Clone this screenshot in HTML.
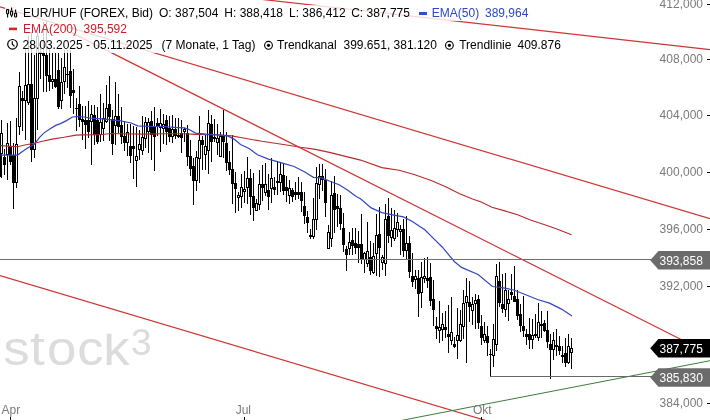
<!DOCTYPE html>
<html><head><meta charset="utf-8"><style>
html,body{margin:0;padding:0;background:#fff;}
body{width:710px;height:420px;overflow:hidden;position:relative;font-family:"Liberation Sans",Arial,sans-serif;}
svg text{font-family:"Liberation Sans",Arial,sans-serif;}
.bg{position:absolute;left:5px;height:16px;background:rgba(255,255,255,0.8);}
.t{position:absolute;font-size:12px;line-height:16px;white-space:nowrap;color:#000;}
.dash{position:absolute;width:8px;height:3px;}
.ic{position:absolute;}
</style></head><body>
<svg width="710" height="420" viewBox="0 0 710 420" style="position:absolute;left:0;top:0">
<defs><clipPath id="lc"><rect x="0" y="333.8" width="140" height="40"/></clipPath></defs><text clip-path="url(#lc)" transform="scale(1.08,1)" x="3.1 27.8 43.5 71.6 95.7" y="365" font-size="49" fill="#dcdcdf">stock</text>
<text x="131" y="354.8" font-size="37" fill="#dcdcdf">3</text>
<g shape-rendering="crispEdges"><path d="M1 120v58h1v-58zM4 149v26h1v-26zM7 123v57h1v-57zM10 121v44h1v-44zM13 143v66h1v-66zM16 118v70h1v-70zM19 72v63h1v-63zM22 91v40h1v-40zM25 49v91h1v-91zM28 36v69h1v-69zM31 32v130h1v-130zM34 55v103h1v-103zM37 32v98h1v-98zM40 44v35h1v-35zM43 22v70h1v-70zM46 21v71h1v-71zM49 49v42h1v-42zM52 53v36h1v-36zM55 53v35h1v-35zM58 53v56h1v-56zM61 58v51h1v-51zM64 50v44h1v-44zM67 50v38h1v-38zM70 50v58h1v-58zM73 69v45h1v-45zM76 98v33h1v-33zM79 86v41h1v-41zM82 106v34h1v-34zM85 106v43h1v-43zM88 101v37h1v-37zM91 105v60h1v-60zM94 105v40h1v-40zM97 107v37h1v-37zM100 94v48h1v-48zM103 103v38h1v-38zM106 85v38h1v-38zM109 76v65h1v-65zM112 110v45h1v-45zM115 82v63h1v-63zM118 94v39h1v-39zM121 107v37h1v-37zM124 121v30h1v-30zM127 124v32h1v-32zM130 124v39h1v-39zM133 126v53h1v-53zM136 127v60h1v-60zM139 130v30h1v-30zM142 116v39h1v-39zM145 117v31h1v-31zM148 118v35h1v-35zM151 111v49h1v-49zM154 107v64h1v-64zM157 118v18h1v-18zM160 109v43h1v-43zM163 114v30h1v-30zM166 115v30h1v-30zM169 116v26h1v-26zM172 115v28h1v-28zM175 118v21h1v-21zM178 118v20h1v-20zM181 120v33h1v-33zM184 128v14h1v-14zM187 125v41h1v-41zM190 140v36h1v-36zM193 158v47h1v-47zM196 151v40h1v-40zM199 116v67h1v-67zM202 136v34h1v-34zM205 135v35h1v-35zM208 110v64h1v-64zM211 115v47h1v-47zM214 119v23h1v-23zM217 124v31h1v-31zM220 132v25h1v-25zM223 110v48h1v-48zM226 132v39h1v-39zM229 151v24h1v-24zM232 135v69h1v-69zM235 172v41h1v-41zM238 192v19h1v-19zM241 174v34h1v-34zM244 171v32h1v-32zM247 157v47h1v-47zM250 169v46h1v-46zM253 173v48h1v-48zM256 199v12h1v-12zM259 170v40h1v-40zM262 165v36h1v-36zM265 163v33h1v-33zM268 174v36h1v-36zM271 158v45h1v-45zM274 177v18h1v-18zM277 161v34h1v-34zM280 162v30h1v-30zM283 164v31h1v-31zM286 176v26h1v-26zM289 180v24h1v-24zM292 188v14h1v-14zM295 182v18h1v-18zM298 177v22h1v-22zM301 182v30h1v-30zM304 192v32h1v-32zM307 211v22h1v-22zM310 229v10h1v-10zM313 198v41h1v-41zM316 167v63h1v-63zM319 164v35h1v-35zM322 164v27h1v-27zM325 169v48h1v-48zM328 225v24h1v-24zM331 181v66h1v-66zM334 176v57h1v-57zM337 194v33h1v-33zM340 195v35h1v-35zM343 213v39h1v-39zM346 246v25h1v-25zM349 232v23h1v-23zM352 228v27h1v-27zM355 228v26h1v-26zM358 231v32h1v-32zM361 214v50h1v-50zM364 252v21h1v-21zM367 222v45h1v-45zM370 241v34h1v-34zM373 243v31h1v-31zM376 214v62h1v-62zM379 207v70h1v-70zM382 255v15h1v-15zM385 204v72h1v-72zM388 198v45h1v-45zM391 208v39h1v-39zM394 210v31h1v-31zM397 213v24h1v-24zM400 225v30h1v-30zM403 219v38h1v-38zM406 216v43h1v-43zM409 236v42h1v-42zM412 253v34h1v-34zM415 270v19h1v-19zM418 270v47h1v-47zM421 262v46h1v-46zM424 258v25h1v-25zM427 257v31h1v-31zM430 263v43h1v-43zM433 280v46h1v-46zM436 317v22h1v-22zM439 301v42h1v-42zM442 313v28h1v-28zM445 311v27h1v-27zM448 305v48h1v-48zM451 297v48h1v-48zM454 337v11h1v-11zM457 308v51h1v-51zM460 310v32h1v-32zM463 290v49h1v-49zM466 278v85h1v-85zM469 281v41h1v-41zM472 297v28h1v-28zM475 294v35h1v-35zM478 295v34h1v-34zM481 315v30h1v-30zM484 322v21h1v-21zM487 326v30h1v-30zM490 349v28h1v-28zM493 324v43h1v-43zM496 264v87h1v-87zM499 262v45h1v-45zM502 274v39h1v-39zM505 273v44h1v-44zM508 290v31h1v-31zM511 274v26h1v-26zM514 266v36h1v-36zM517 290v30h1v-30zM520 304v28h1v-28zM523 296v41h1v-41zM526 329v16h1v-16zM529 318v31h1v-31zM532 319v30h1v-30zM535 314v24h1v-24zM538 303v38h1v-38zM541 311v27h1v-27zM544 320v12h1v-12zM547 311v37h1v-37zM550 334v45h1v-45zM553 332v28h1v-28zM556 329v27h1v-27zM559 336v19h1v-19zM562 346v17h1v-17zM565 338v29h1v-29zM568 334v30h1v-30zM571 338v31h1v-31z" fill="#000"/><path d="M0 133h3v21h-3zM3 157h3v8h-3zM6 143h3v12h-3zM9 146h3v16h-3zM12 155h3v28h-3zM15 144h3v39h-3zM18 86h3v41h-3zM21 98h3v3h-3zM24 85h3v16h-3zM27 84h3v19h-3zM30 84h3v66h-3zM33 98h3v52h-3zM36 36h3v63h-3zM39 52h3v2h-3zM42 53h3v3h-3zM45 55h3v21h-3zM48 75h3v7h-3zM51 79h3v3h-3zM54 79h3v8h-3zM57 70h3v37h-3zM60 82h3v19h-3zM63 67h3v15h-3zM66 74h3v1h-3zM69 71h3v25h-3zM72 90h3v3h-3zM75 108h3v1h-3zM78 104h3v16h-3zM81 119h3v3h-3zM84 120h3v5h-3zM87 120h3v12h-3zM90 114h3v8h-3zM93 115h3v20h-3zM96 120h3v22h-3zM99 122h3v13h-3zM102 118h3v11h-3zM105 108h3v14h-3zM108 104h3v13h-3zM111 119h3v25h-3zM114 116h3v10h-3zM117 116h3v11h-3zM120 125h3v12h-3zM123 136h3v7h-3zM126 132h3v11h-3zM129 146h3v10h-3zM132 146h3v3h-3zM135 156h3v5h-3zM138 144h3v6h-3zM141 137h3v14h-3zM144 122h3v17h-3zM147 122h3v10h-3zM150 121h3v14h-3zM153 127h3v10h-3zM156 123h3v4h-3zM159 123h3v5h-3zM162 124h3v5h-3zM165 120h3v12h-3zM168 128h3v9h-3zM171 129h3v8h-3zM174 129h3v7h-3zM177 135h3v2h-3zM180 133h3v5h-3zM183 129h3v3h-3zM186 133h3v24h-3zM189 156h3v13h-3zM192 166h3v15h-3zM195 157h3v24h-3zM198 140h3v19h-3zM201 140h3v5h-3zM204 146h3v9h-3zM207 123h3v28h-3zM210 124h3v18h-3zM213 137h3v2h-3zM216 138h3v5h-3zM219 136h3v21h-3zM222 136h3v6h-3zM225 143h3v20h-3zM228 162h3v8h-3zM231 169h3v15h-3zM234 183h3v6h-3zM237 195h3v3h-3zM240 187h3v10h-3zM243 189h3v3h-3zM246 178h3v10h-3zM249 178h3v19h-3zM252 196h3v12h-3zM255 203h3v8h-3zM258 184h3v21h-3zM261 184h3v4h-3zM264 184h3v9h-3zM267 190h3v7h-3zM270 178h3v11h-3zM273 187h3v3h-3zM276 181h3v2h-3zM279 174h3v9h-3zM282 175h3v16h-3zM285 187h3v4h-3zM288 188h3v8h-3zM291 190h3v7h-3zM294 192h3v3h-3zM297 192h3v3h-3zM300 192h3v9h-3zM303 206h3v10h-3zM306 217h3v6h-3zM309 235h3v2h-3zM312 219h3v18h-3zM315 183h3v37h-3zM318 176h3v9h-3zM321 176h3v4h-3zM324 180h3v23h-3zM327 232h3v17h-3zM330 195h3v44h-3zM333 193h3v17h-3zM336 206h3v3h-3zM339 208h3v16h-3zM342 228h3v17h-3zM345 249h3v6h-3zM348 242h3v7h-3zM351 240h3v6h-3zM354 243h3v5h-3zM357 244h3v4h-3zM360 244h3v15h-3zM363 253h3v7h-3zM366 251h3v13h-3zM369 257h3v14h-3zM372 256h3v17h-3zM375 235h3v19h-3zM378 234h3v14h-3zM381 257h3v6h-3zM384 219h3v45h-3zM387 216h3v20h-3zM390 230h3v8h-3zM393 228h3v11h-3zM396 222h3v8h-3zM399 229h3v3h-3zM402 229h3v22h-3zM405 243h3v8h-3zM408 243h3v29h-3zM411 276h3v6h-3zM414 276h3v4h-3zM417 278h3v16h-3zM420 277h3v16h-3zM423 276h3v3h-3zM426 278h3v3h-3zM429 277h3v24h-3zM432 299h3v11h-3zM435 326h3v3h-3zM438 327h3v4h-3zM441 324h3v6h-3zM444 327h3v3h-3zM447 334h3v3h-3zM450 332h3v9h-3zM453 344h3v3h-3zM456 335h3v6h-3zM459 324h3v17h-3zM462 303h3v24h-3zM465 296h3v7h-3zM468 302h3v5h-3zM471 304h3v7h-3zM474 300h3v4h-3zM477 299h3v24h-3zM480 326h3v12h-3zM483 334h3v7h-3zM486 336h3v7h-3zM489 354h3v1h-3zM492 339h3v17h-3zM495 276h3v69h-3zM498 281h3v22h-3zM501 304h3v5h-3zM504 290h3v20h-3zM507 299h3v5h-3zM510 292h3v3h-3zM513 296h3v6h-3zM516 299h3v17h-3zM519 314h3v12h-3zM522 326h3v5h-3zM525 334h3v3h-3zM528 334h3v6h-3zM531 335h3v5h-3zM534 334h3v2h-3zM537 322h3v16h-3zM540 324h3v2h-3zM543 323h3v8h-3zM546 330h3v12h-3zM549 344h3v6h-3zM552 340h3v10h-3zM555 345h3v2h-3zM558 346h3v5h-3zM561 355h3v2h-3zM564 353h3v10h-3zM567 346h3v17h-3zM570 348h3v5h-3zM0 153h2v24h-2z" fill="#000"/><path d="M1 134h1v19h-1zM7 144h1v10h-1zM16 145h1v37h-1zM19 87h1v39h-1zM25 86h1v14h-1zM28 85h1v17h-1zM34 99h1v50h-1zM37 37h1v61h-1zM52 80h1v1h-1zM61 83h1v17h-1zM64 68h1v13h-1zM91 115h1v6h-1zM100 123h1v11h-1zM103 119h1v9h-1zM106 109h1v12h-1zM115 117h1v8h-1zM127 133h1v9h-1zM136 157h1v3h-1zM139 145h1v4h-1zM142 138h1v12h-1zM145 123h1v15h-1zM148 123h1v8h-1zM160 124h1v3h-1zM163 125h1v3h-1zM172 130h1v6h-1zM184 130h1v1h-1zM196 158h1v22h-1zM199 141h1v17h-1zM205 147h1v7h-1zM208 124h1v26h-1zM217 139h1v3h-1zM220 137h1v19h-1zM238 196h1v1h-1zM241 188h1v8h-1zM244 190h1v1h-1zM247 179h1v8h-1zM256 204h1v6h-1zM259 185h1v19h-1zM265 185h1v7h-1zM271 179h1v9h-1zM280 175h1v7h-1zM289 189h1v6h-1zM313 220h1v16h-1zM316 184h1v35h-1zM319 177h1v7h-1zM328 233h1v15h-1zM331 196h1v42h-1zM349 243h1v5h-1zM364 254h1v5h-1zM367 252h1v11h-1zM373 257h1v15h-1zM376 236h1v17h-1zM382 258h1v4h-1zM385 220h1v43h-1zM391 231h1v6h-1zM394 229h1v9h-1zM397 223h1v6h-1zM400 230h1v1h-1zM406 244h1v6h-1zM415 277h1v2h-1zM421 278h1v14h-1zM424 277h1v1h-1zM439 328h1v2h-1zM442 325h1v4h-1zM451 333h1v7h-1zM457 336h1v4h-1zM460 325h1v15h-1zM463 304h1v22h-1zM466 297h1v5h-1zM472 305h1v5h-1zM475 301h1v2h-1zM484 335h1v5h-1zM493 340h1v15h-1zM496 277h1v67h-1zM505 291h1v18h-1zM508 300h1v3h-1zM532 336h1v3h-1zM538 323h1v14h-1zM553 341h1v8h-1zM568 347h1v15h-1zM571 349h1v3h-1z" fill="#fff"/></g>
<polyline points="0.5,145.6 17.6,146.8 24.8,145.0 34.3,143.2 41.5,141.5 52.2,139.1 64.1,137.3 76.0,135.1 81.9,134.9 100.5,134.8 110.5,133.5 120.5,133.7 141.9,134.1 163.4,133.7 184.8,133.7 195.5,134.4 206.2,134.8 216.9,134.8 231.9,135.9 240.5,137.5 261.9,141.3 283.4,144.5 300.5,147.3 315.5,149.4 330.5,152.6 343.4,155.9 360.5,160.1 381.9,167.6 399.1,170.2 414.1,174.5 431.2,180.5 446.2,186.9 459.1,193.4 471.9,198.7 481.2,201.9 491.9,207.3 504.8,210.9 517.6,214.8 530.5,220.1 545.5,225.1 556.2,228.7 571.5,234.7" fill="none" stroke="#b82a2a" stroke-width="1.1"/>
<polyline points="0.5,155.1 17.6,155.1 22.4,151.6 28.4,147.4 34.3,144.4 39.1,137.9 43.8,133.1 49.8,129.0 55.7,125.4 60.5,123.6 66.5,120.6 72.4,117.0 77.2,116.5 84.3,117.0 90.5,118.2 107.5,119.4 120.5,120.9 131.2,123.0 137.5,125.8 152.5,126.5 163.5,126.5 174.1,127.3 184.5,127.9 189.1,129.5 195.5,133.1 206.2,134.1 216.9,134.8 227.5,135.9 234.1,139.1 240.5,144.5 249.1,148.4 257.5,154.8 268.4,159.1 283.4,163.4 294.1,166.5 304.8,171.9 313.4,177.3 321.9,177.9 330.5,181.5 339.1,184.8 347.5,190.1 356.2,196.5 360.5,198.7 371.2,207.9 381.9,212.6 392.5,214.8 403.4,216.9 411.9,221.2 424.8,229.8 433.4,238.4 442.4,247.2 454.3,261.5 461.5,267.4 478.1,274.5 492.4,286.5 501.9,287.6 513.8,290.0 525.7,294.8 537.6,299.5 549.5,303.1 561.5,309.1 572.0,316.1" fill="none" stroke="#3346c0" stroke-width="1.2"/>

<line x1="0" y1="6.80" x2="710" y2="218.74" stroke="#d03434" stroke-width="1.2"/>
<line x1="0" y1="275.50" x2="710" y2="487.44" stroke="#d03434" stroke-width="1.2"/>
<line x1="250" y1="-1.92" x2="710" y2="49.60" stroke="#d03434" stroke-width="1.2"/>
<line x1="70" y1="31.90" x2="700" y2="348.97" stroke="#d03434" stroke-width="1.2"/>
<line x1="401" y1="420.50" x2="710" y2="360.71" stroke="#3a7d3a" stroke-width="1"/>
<path d="M0 259.5H652" stroke="#6e6e6e" stroke-width="1"/>
<path d="M490.5 376V376.5H652" stroke="#686868" stroke-width="1" fill="none"/>

<g font-size="12" fill="#7a7a7a"><text x="703" y="8.3" text-anchor="end">412,000</text><rect x="707" y="4" width="3" height="1" fill="#000"/><text x="703" y="63.3" text-anchor="end">408,000</text><rect x="707" y="59" width="3" height="1" fill="#000"/><text x="703" y="119.3" text-anchor="end">404,000</text><rect x="707" y="115" width="3" height="1" fill="#000"/><text x="703" y="176.3" text-anchor="end">400,000</text><rect x="707" y="172" width="3" height="1" fill="#000"/><text x="703" y="233.3" text-anchor="end">396,000</text><rect x="707" y="229" width="3" height="1" fill="#000"/><text x="703" y="290.3" text-anchor="end">392,000</text><rect x="707" y="286" width="3" height="1" fill="#000"/><text x="703" y="348.3" text-anchor="end">388,000</text><rect x="707" y="344" width="3" height="1" fill="#000"/><text x="703" y="407.3" text-anchor="end">384,000</text><rect x="707" y="403" width="3" height="1" fill="#000"/><text x="1.6" y="414">Apr</text><rect x="10" y="417" width="1" height="3" fill="#000"/><text x="235.7" y="414">Jul</text><rect x="244" y="417" width="1" height="3" fill="#000"/><text x="472.9" y="414">Okt</text><rect x="481" y="417" width="1" height="3" fill="#000"/></g>
<g font-size="12"><path d="M650.2 260.3 L658.4 251.05 H710 V269.55 H658.4 Z" fill="#6b6b6b"/><text x="659.5" y="264.6" fill="#fff">393,858</text><path d="M650.2 348.2 L658.4 338.95 H710 V357.45 H658.4 Z" fill="#000"/><text x="659.5" y="352.5" fill="#fff">387,775</text><path d="M650.2 377.5 L658.4 368.25 H710 V386.75 H658.4 Z" fill="#6b6b6b"/><text x="659.5" y="381.8" fill="#fff">385,830</text></g>
</svg>

<div class="bg" style="top:5px;width:527px"></div>
<div class="bg" style="top:21px;width:127px"></div>
<div class="bg" style="top:37px;width:561px"></div>
<svg class="ic" style="left:0;top:0" width="30" height="60" viewBox="0 0 30 60">
 <g fill="#fff" stroke="#000" stroke-width="1.1">
  <path d="M7.6 13.7V17.5M11.6 7.4V10.6M11.6 15.2V17.2M15.6 9.4V12.6" />
  <rect x="6.6" y="9.6" width="2" height="4.1" rx="0.5"/>
  <rect x="10.6" y="11.1" width="2" height="4.1" rx="0.5"/>
  <rect x="14.6" y="13.1" width="2" height="3.9" rx="0.5"/>
 </g>
 <rect x="9" y="27.6" width="8" height="2.6" fill="#d42a2a"/>
 <circle cx="12.5" cy="44.3" r="4.8" fill="none" stroke="#000" stroke-width="1.2"/>
 <path d="M12.3 41.2V44.3L14.5 46.4" fill="none" stroke="#000" stroke-width="1.2"/>
</svg>
<span class="t" style="left:23px;top:5px">EUR/HUF (FOREX, Bid)</span>
<span class="t" style="left:159px;top:5px">O: 387,504</span>
<span class="t" style="left:224.3px;top:5px">H: 388,418</span>
<span class="t" style="left:289px;top:5px">L: 386,412</span>
<span class="t" style="left:351.2px;top:5px">C: 387,775</span>
<span class="dash" style="left:419px;top:12px;background:#2f4fd0"></span>
<span class="t" style="left:431.8px;top:5px;color:#2a47c8">EMA(50)</span>
<span class="t" style="left:485px;top:5px;color:#2a47c8">389,964</span>
<span class="t" style="left:23px;top:21px;color:#c9202a">EMA(200)</span>
<span class="t" style="left:83.6px;top:21px;color:#c9202a">395,592</span>
<span class="t" style="left:22.6px;top:37px">28.03.2025 - 05.11.2025</span>
<span class="t" style="left:161.6px;top:37px">(7 Monate, 1 Tag)</span>
<svg class="ic" style="left:260px;top:36px" width="200" height="18" viewBox="260 36 200 18">
 <circle cx="268.5" cy="45.3" r="3.9" fill="none" stroke="#000" stroke-width="1.1"/>
 <circle cx="268.5" cy="45.3" r="1.6" fill="#000"/>
 <circle cx="449.4" cy="45.3" r="3.9" fill="none" stroke="#000" stroke-width="1.1"/>
 <circle cx="449.4" cy="45.3" r="1.6" fill="#000"/>
</svg>
<span class="t" style="left:277px;top:37px">Trendkanal</span>
<span class="t" style="left:343.5px;top:37px">399.651, 381.120</span>
<span class="t" style="left:459.2px;top:37px">Trendlinie</span>
<span class="t" style="left:517.5px;top:37px">409.876</span>

</body></html>
